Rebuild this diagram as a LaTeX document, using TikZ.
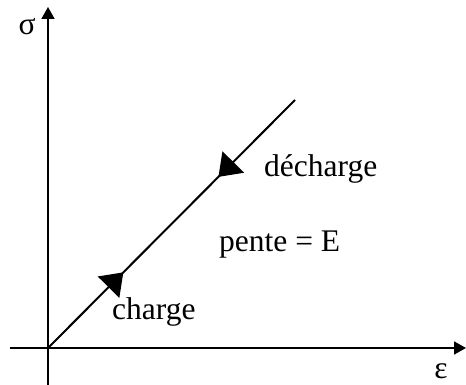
\documentclass[tikz,border=0pt]{standalone}
\usepackage{fontspec}
\setmainfont{Liberation Serif}
\usetikzlibrary{arrows.meta,decorations.markings}

\begin{document}
\begin{tikzpicture}[
  x=1pt,y=1pt,
  axis/.style={line width=1.8pt,-{Triangle[length=12pt,width=13pt]}},
  lbl/.style={font=\fontsize{31.5}{38}\selectfont,inner sep=0pt},
  path/.style={line width=2pt,postaction={decorate},decoration={markings,
    mark=at position 0.305 with {\arrow{Triangle[length=21pt,width=30pt]}},
    mark=at position 0.69 with {\arrowreversed{Triangle[length=21pt,width=30pt]}}}}]
\useasboundingbox (0,0) rectangle (466,385);
% axes
\coordinate (o) at (48,37);
\coordinate (xs) at (10,37);
\coordinate (xe) at (466,37);
\coordinate (ys) at (48,0);
\coordinate (ye) at (48,378);
\draw[axis] (xs)--(xe);
\draw[axis] (ys)--(ye);
\node[lbl] (sig) at (27,358) {σ};
\node[lbl] (eps) at (441,14) {ε};
% elastic line
\coordinate (top) at (295,285);
\draw[path] (o)--(top);
\node[lbl,anchor=base west] (ch) at (112,65) {charge};
\node[lbl,anchor=base west] (dech) at (264,208) {décharge};
\node[lbl,anchor=base west] (slope) at (219,133) {pente = E};
\end{tikzpicture}
\end{document}
